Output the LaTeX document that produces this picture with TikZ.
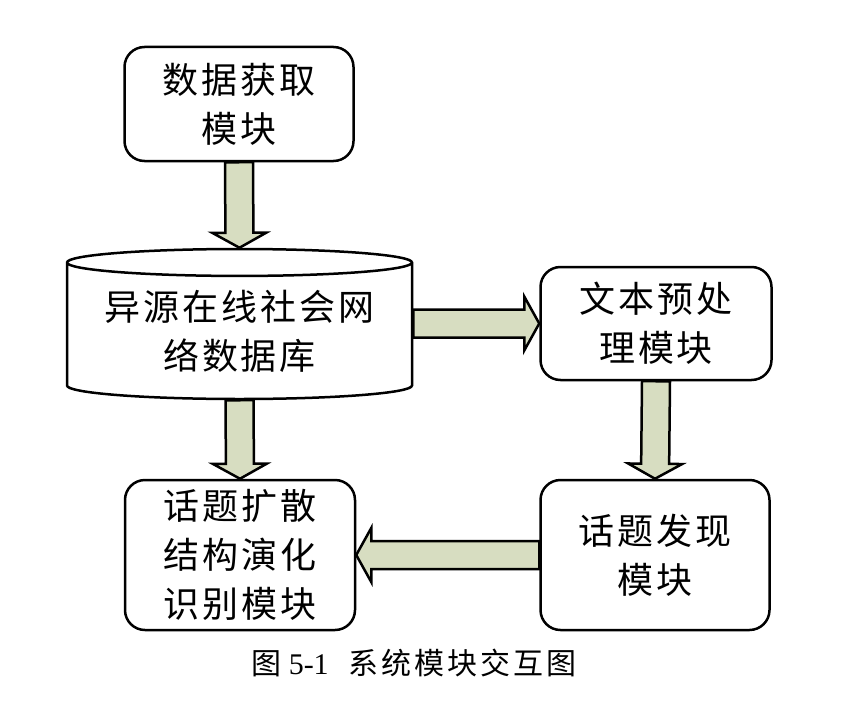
\documentclass[tikz,border=0pt]{standalone}
\usepackage{fontspec}
\setmainfont{Liberation Serif}
\newfontfamily\cjk[LetterSpace=8]{Noto Sans CJK SC}
\newfontfamily\cjkcap[LetterSpace=10]{Noto Sans CJK SC}
\usetikzlibrary{shapes.geometric,calc}

\definecolor{arrowfill}{RGB}{215,221,193}

% block arrow from #1 to #2
\newcommand{\blockarrow}[2]{%
	\coordinate (hb) at ($(#2)!15pt!(#1)$);
	\draw[blockarr] ($(#1)!14pt!90:(#2)$) -- ($(hb)!14pt!-90:(#1)$) -- ($(hb)!27pt!-90:(#1)$) -- (#2)
		-- ($(hb)!27pt!90:(#1)$) -- ($(hb)!14pt!90:(#1)$) -- ($(#1)!14pt!-90:(#2)$) -- cycle;}

\begin{document}
\begin{tikzpicture}[x=1pt,y=-1pt]
	\tikzset{
		module/.style={draw, line width=2.5pt, rounded corners=20pt, fill=white, align=center, inner sep=0pt,
			font=\cjk\fontsize{36}{49}\selectfont},
		blockarr/.style={draw, line width=2.5pt, fill=arrowfill, line join=miter},
	}
	\useasboundingbox (0,0) rectangle (850,706);

	\node[module, minimum width=229pt, minimum height=114pt] at (239,104) (getdata) {数据获取\\模块};
	\node[draw, line width=2.5pt, cylinder, shape border rotate=90, aspect=0.1, minimum width=345pt, minimum height=150pt,
		anchor=shape center, align=center, inner sep=0pt, font=\cjk\fontsize{36}{49}\selectfont] at (239.5,324) (db) {异源在线社会网\\络数据库};
	\node[module, minimum width=231pt, minimum height=113pt] at (656,323.5) (prep) {文本预处\\理模块};
	\node[module, minimum width=229pt, minimum height=150pt] at (655,555) (detect) {话题发现\\模块};
	\node[module, minimum width=230pt, minimum height=150pt] at (240,555) (evolve) {话题扩散\\结构演化\\识别模块};

	\coordinate (dbout) at (db.east |- prep.west);

	\blockarrow{getdata.south}{db.top}
	\blockarrow{dbout}{prep.west}
	\blockarrow{prep.south}{detect.north}
	\blockarrow{detect.west}{evolve.east}
	\blockarrow{db.bottom}{evolve.north}

	\node[font=\fontsize{30}{36}\selectfont] at (414,663) (caption) {{\cjkcap 图} 5-1\hspace{20pt}{\cjkcap 系统模块交互图}};
\end{tikzpicture}
\end{document}
